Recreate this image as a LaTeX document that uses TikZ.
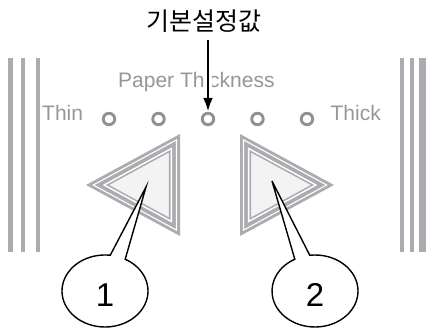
\documentclass[tikz,border=0pt]{standalone}
\usepackage{fontspec}
\setmainfont{Liberation Sans}
\newfontfamily\krfont{Noto Sans CJK KR}
\usetikzlibrary{arrows.meta,calc,positioning}

\definecolor{bargray}{RGB}{172,172,176}
\definecolor{keygray}{RGB}{172,172,176}
\definecolor{keylight}{RGB}{243,243,243}
\definecolor{labelgray}{RGB}{150,150,155}
\definecolor{ledgray}{RGB}{145,145,148}

\begin{document}
\begin{tikzpicture}[x=1pt, y=-1pt,
		led/.style={circle, draw=ledgray, line width=2.9pt, minimum size=11.5pt, inner sep=0pt},
		panel/.style={text=labelgray, font=\fontsize{21}{21}\selectfont, inner sep=0pt},
		num/.style={inner sep=0pt, font=\fontsize{33}{33}\selectfont},
		callout/.style={draw=black, fill=white, line width=1.4pt},
		pointer/.style={line width=2.8pt, -{Latex[length=14pt,width=10pt]}}]
		\useasboundingbox (0,0) rectangle (427,331);
		% side strips
		\foreach \xa/\xb in {8/13,21/25,36/40,400/404,410/414,419/426}
		\fill[bargray] (\xa,58) rectangle (\xb,252);
		% panel labels
		\node[panel, anchor=base west] (paper) at (118,88) {Paper Thickness};
		\node[panel, anchor=base west] (thin) at (42,121) {Thin};
		\node[panel, anchor=base east] (thick) at (381,121) {Thick};
		% leds
		\foreach \i in {1,...,5}
		\node[led] (c\i) at (59.5+49.5*\i,119) {};
		% default marker
		\node[font=\krfont\fontsize{25}{25}\selectfont, inner sep=0pt] (title) at (204,21) {기본설정값};
		\coordinate (atop) at (208,40);
		\draw[white, line width=7pt, shorten >=14pt] (atop) -- (c3.north);
		\draw[pointer] (atop) -- (c3.north);
		% keys
		\foreach \cx/\s in {149.6/-1,270.4/1} {
			\begin{scope}[shift={(\cx,185)}]
				\fill[keygray] (\s*63.6,0) -- (-\s*30.4,-51) -- (-\s*30.4,51) -- cycle;
				\draw[white, line width=1.1pt, scale=0.885] (\s*63.6,0) -- (-\s*30.4,-51) -- (-\s*30.4,51) -- cycle;
				\draw[white, line width=1.6pt, scale=0.712] (\s*63.6,0) -- (-\s*30.4,-51) -- (-\s*30.4,51) -- cycle;
				\filldraw[fill=keylight, draw=keygray, line width=1.4pt, scale=0.66] (\s*63.6,0) -- (-\s*30.4,-51) -- (-\s*30.4,51) -- cycle;
			\end{scope}
		}
		% callouts
		\coordinate (e1) at (105,291);
		\coordinate (e2) at (315,291);
		\coordinate (p1) at (146,187);
		\coordinate (p2) at (272,181);
		\draw[callout] (p1) -- ($(e1)+(-62:43 and 36)$) arc[start angle=-62, end angle=277, x radius=43, y radius=36] -- cycle;
		\draw[callout] (p2) -- ($(e2)+(-97:43 and 36)$) arc[start angle=-97, end angle=242, x radius=43, y radius=36] -- cycle;
		\node[num] (n1) at (105,295) {1};
		\node[num] (n2) at (315,295) {2};
\end{tikzpicture}
\end{document}
